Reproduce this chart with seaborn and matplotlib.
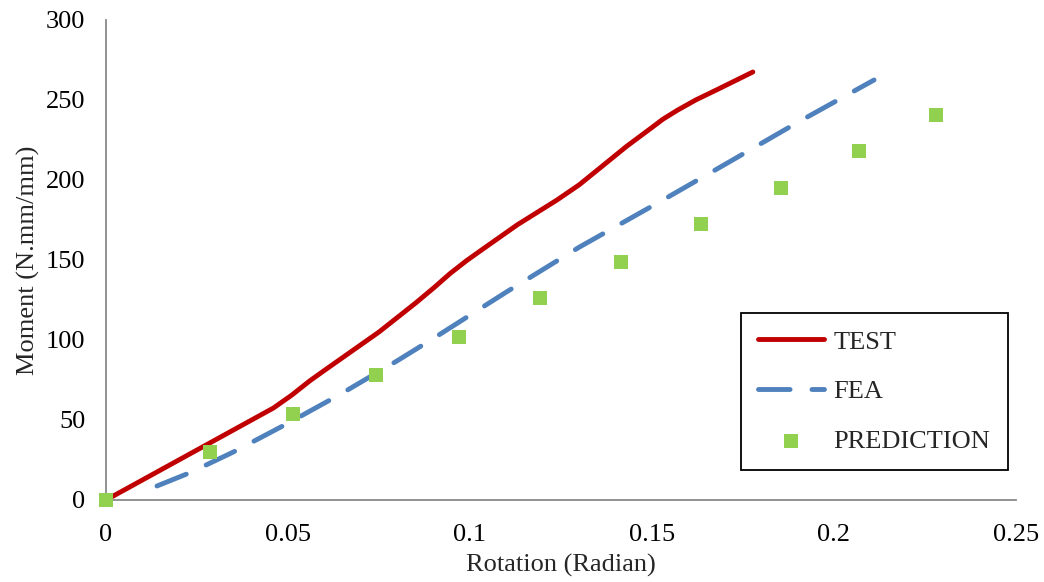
import matplotlib
matplotlib.use("Agg")
import matplotlib.pyplot as plt
import seaborn as sns
import pandas as pd

# Moment-rotation response: test, finite element analysis, and prediction
test_rot = [0, 0.01, 0.02, 0.03, 0.04, 0.046, 0.051, 0.056, 0.060, 0.065, 0.075,
            0.085, 0.090, 0.0945, 0.099, 0.1027, 0.113, 0.1239, 0.130, 0.1357,
            0.143, 0.1495, 0.153, 0.1569, 0.162, 0.1679, 0.1777]
test_moment = [0, 12.5, 25, 37.5, 50, 57.5, 65.5, 74.5, 81, 89, 105,
               123, 132.5, 141.5, 149.5, 155.5, 172, 187.5, 197, 207.5,
               221, 232, 238, 243.5, 250, 256.5, 267.5]

fea_rot = [0.014, 0.023, 0.035, 0.05, 0.064, 0.08, 0.091, 0.11, 0.13, 0.153,
           0.171, 0.19, 0.211]
fea_moment = [8.75, 17, 30, 48, 65.6, 87, 102.5, 130, 158, 187.5,
              211, 236, 262.5]

pred_rot = [0, 0.0286, 0.0514, 0.0742, 0.097, 0.1192, 0.1415, 0.1635, 0.1854,
            0.2069, 0.228]
pred_moment = [0, 30, 54, 78, 102, 126, 149, 172.5, 195, 218, 240.6]

x_ticks = [0, 0.05, 0.1, 0.15, 0.2, 0.25]
x_tick_labels = ["0", "0.05", "0.1", "0.15", "0.2", "0.25"]
y_ticks = [0, 50, 100, 150, 200, 250, 300]

sns.set_style("white")
plt.rcParams["font.family"] = ["Liberation Serif", "DejaVu Serif"]
FS = 19
plt.rcParams["font.size"] = FS

test_df = pd.DataFrame({"rot": test_rot, "moment": test_moment})
fea_df = pd.DataFrame({"rot": fea_rot, "moment": fea_moment})
pred_df = pd.DataFrame({"rot": pred_rot, "moment": pred_moment})

fig = plt.figure(figsize=(10.44, 5.82), dpi=100)
ax = fig.add_axes([106 / 1044, 1 - 500 / 582, 910 / 1044, 480 / 582])

sns.lineplot(data=test_df, x="rot", y="moment", ax=ax, color="#C00000",
             linewidth=3.5, label="TEST", sort=False, estimator=None)
ax.lines[-1].set_solid_capstyle("round")
ax.lines[-1].set_solid_joinstyle("round")
sns.lineplot(data=fea_df, x="rot", y="moment", ax=ax, color="#4F81BD",
             linewidth=3.5, label="FEA", sort=False, estimator=None,
             dashes=False)
ax.lines[-1].set_dashes([6.5, 4.5])
ax.lines[-1].set_dash_capstyle("round")
sns.scatterplot(data=pred_df, x="rot", y="moment", ax=ax, color="#92D050",
                marker="s", s=100, linewidth=0, label="PREDICTION", zorder=5,
                clip_on=False)

ax.set_xlim(0, 0.25)
ax.set_ylim(0, 300)
ax.set_xticks(x_ticks)
ax.set_xticklabels(x_tick_labels)
ax.set_yticks(y_ticks)

for side in ["top", "right"]:
    ax.spines[side].set_visible(False)
for side in ["left", "bottom"]:
    ax.spines[side].set_color("#898989")
    ax.spines[side].set_linewidth(1.3)

ax.tick_params(axis="both", direction="in", length=6, width=1.3,
               color="#898989", labelsize=FS, labelcolor="black")
ax.tick_params(axis="x", pad=17)
ax.tick_params(axis="y", pad=15)

ax.set_xlabel("Rotation (Radian)", fontsize=FS, labelpad=6)
ax.set_ylabel("Moment (N.mm/mm)", fontsize=FS, labelpad=4)

leg = ax.legend(loc="upper left", bbox_to_anchor=(0.698, 0.3896),
                borderaxespad=0, frameon=True, fancybox=False,
                fontsize=FS, handlelength=2.5, handletextpad=0.35,
                labelspacing=1.0, borderpad=0.65, markerscale=1.0)
frame = leg.get_frame()
frame.set_edgecolor("black")
frame.set_linewidth(1.3)
frame.set_alpha(1)

fig.savefig("out.png", dpi=100)
